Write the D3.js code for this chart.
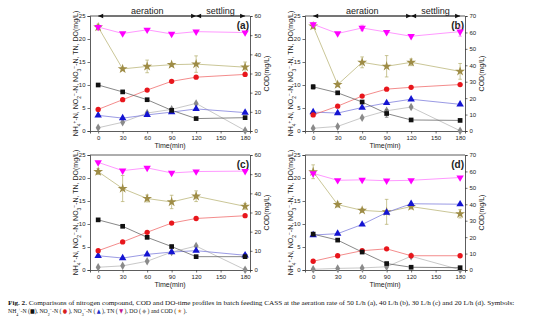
<!DOCTYPE html>
<html>
<head>
<meta charset="utf-8">
<script src="https://cdnjs.cloudflare.com/ajax/libs/d3/7.8.5/d3.min.js"></script>
<style>
  body { margin: 0; background: #fff; }
  svg text { font-family: "Liberation Sans", Arial, sans-serif; fill: #222; }
</style>
</head>
<body>
<div id="fig"></div>
<script>
// sampling times (min) and axis ticks
const times = [0, 30, 60, 90, 120, 180];
const timeTicks = [0, 30, 60, 90, 120, 150, 180];
const leftTicks = [0, 5, 10, 15, 20, 25];

// (a) 50 L/h
const nh4A = [10.0, 8.5, 6.8, 4.5, 2.7, 2.9];
const no2A = [4.7, 6.8, 8.9, 10.8, 11.7, 12.3];
const no3A = [3.4, 2.8, 3.5, 4.1, 4.8, 4.0];
const tnA  = [22.6, 21.2, 22.0, 21.1, 21.6, 21.4];
const doA  = [0.7, 1.9, 3.9, 4.7, 6.0, 0.1];
const codA = [54.2, 32.4, 33.7, 34.6, 34.9, 33.3];
const codErrA = [1.5, 0.6, 3.3, 0.8, 4.3, 2.7];

// (b) 40 L/h
const nh4B = [9.6, 8.3, 6.3, 3.8, 2.4, 2.3];
const nh4ErrB = [0.5, 0, 0, 0.8, 0, 0];
const no2B = [3.5, 5.4, 7.6, 9.1, 9.5, 10.1];
const no3B = [4.1, 3.9, 5.1, 6.1, 6.9, 5.8];
const tnB  = [23.2, 21.2, 22.4, 21.5, 20.6, 21.6];
const tnErrB = [0.4, 0, 0.6, 0, 0, 1.0];
const doB  = [0.6, 1.0, 2.9, 4.4, 5.2, 0.05];
const codB = [63.8, 28.2, 41.8, 39.4, 41.8, 36.3];
const codErrB = [1.5, 1.2, 3.3, 6.5, 2.0, 4.8];

// (c) 30 L/h
const nh4C = [10.9, 9.5, 7.1, 5.1, 2.9, 2.9];
const no2C = [4.2, 6.1, 8.2, 10.2, 11.2, 11.8];
const no3C = [3.1, 2.6, 3.4, 3.9, 4.2, 3.2];
const no3ErrC = [0, 0, 0, 0, 0, 0.4];
const tnC  = [23.4, 21.6, 22.2, 21.1, 21.4, 21.5];
const doC  = [0.6, 0.9, 1.9, 3.9, 5.2, 0.05];
const codC = [51.3, 42.5, 37.3, 35.5, 38.5, 33.2];
const codErrC = [1.5, 6.8, 1.8, 3.5, 2.8, 1.5];

// (d) 20 L/h
const nh4D = [7.8, 6.5, 3.9, 1.4, 0.6, 0.5];
const no2D = [1.9, 3.1, 4.2, 4.6, 3.1, 3.1];
const no3D = [7.6, 7.9, 9.9, 12.5, 14.4, 14.3];
const tnD  = [21.0, 19.5, 19.6, 19.4, 19.5, 20.1];
const doD  = [0.15, 0.35, 0.45, 0.7, 3.0, 0.05];
const codD = [59.8, 39.8, 36.3, 35.4, 38.6, 34.2];
const codErrD = [4.2, 1.5, 1.2, 7.6, 1.5, 2.5];

// series styles
const styles = {
  cod: { symbol: d3.symbolStar, size: 30, fill: "#9e8c46", line: "#b3ae6a", axis: "right" },
  tn:  { symbol: d3.symbolTriangle, size: 24, fill: "#f0f", line: "#ff6bff", rotate: 180 },
  doo: { symbol: d3.symbolDiamond, size: 21, fill: "#8a8a8a", line: "#b0b0b0" },
  no3: { symbol: d3.symbolTriangle, size: 24, fill: "#1414d2", line: "#6f6fd8" },
  no2: { symbol: d3.symbolCircle, size: 22, fill: "#e8161c", line: "#ee5a5a" },
  nh4: { symbol: d3.symbolSquare, size: 22, fill: "#111", line: "#555" }
};

const panels = [
  { id: "a", x: 90, y: 16, codMax: 60, phases: true,
    series: { cod: [codA, codErrA], tn: [tnA], doo: [doA], no3: [no3A], no2: [no2A], nh4: [nh4A] } },
  { id: "b", x: 305, y: 16, codMax: 70, phases: true,
    series: { cod: [codB, codErrB], tn: [tnB, tnErrB], doo: [doB], no3: [no3B], no2: [no2B], nh4: [nh4B, nh4ErrB] } },
  { id: "c", x: 90, y: 155, codMax: 60, phases: false,
    series: { cod: [codC, codErrC], tn: [tnC], doo: [doC], no3: [no3C, no3ErrC], no2: [no2C], nh4: [nh4C] } },
  { id: "d", x: 305, y: 155, codMax: 70, phases: false,
    series: { cod: [codD, codErrD], tn: [tnD], doo: [doD], no3: [no3D], no2: [no2D], nh4: [nh4D] } }
];

const W = 554, H = 324;
const pw = 160, ph = 115;

const svg = d3.select("#fig").append("svg")
  .attr("width", W).attr("height", H);

function addLabel(sel, parts) {
  // parts: [text, shift] where shift is "sub", "super" or null
  parts.forEach(p => {
    const t = sel.append("tspan").text(p[0]);
    if (p[1]) t.attr("baseline-shift", p[1]).attr("font-size", "0.7em");
  });
}

panels.forEach(p => {
  const g = svg.append("g").attr("transform", `translate(${p.x},${p.y})`);

  const x = d3.scaleLinear().domain([-10, 186]).range([0, pw]);
  const yL = d3.scaleLinear().domain([0, 25]).range([ph, 0]);
  const yR = d3.scaleLinear().domain([0, p.codMax]).range([ph, 0]);

  // axes
  const axB = g.append("g").attr("transform", `translate(0,${ph})`)
    .call(d3.axisBottom(x).tickValues(timeTicks).tickSize(2.5).tickPadding(2));
  const axL = g.append("g")
    .call(d3.axisLeft(yL).tickValues(leftTicks).tickSize(2.5).tickPadding(2));
  const axR = g.append("g").attr("transform", `translate(${pw},0)`)
    .call(d3.axisRight(yR).ticks(p.codMax / 10).tickSize(2.5).tickPadding(2));
  g.append("line").attr("x1", 0).attr("x2", pw).attr("y1", 0).attr("y2", 0)
    .attr("stroke", "#333").attr("stroke-width", 0.8);

  [axB, axL, axR].forEach(a => {
    a.select(".domain").attr("stroke", "#333").attr("stroke-width", 0.8);
    a.selectAll(".tick line").attr("stroke", "#333").attr("stroke-width", 0.7);
    a.selectAll(".tick text").attr("font-size", 6).attr("fill", "#333")
      .attr("font-family", "Liberation Sans, Arial, sans-serif");
  });

  // axis titles
  g.append("text").attr("x", pw / 2).attr("y", ph + 17)
    .attr("text-anchor", "middle").attr("font-size", 7).text("Time(min)");

  const yt = g.append("text")
    .attr("transform", `translate(-12,${ph / 2}) rotate(-90)`)
    .attr("text-anchor", "middle").attr("font-size", 7);
  addLabel(yt, [["NH"], ["4", "sub"], ["+", "super"], ["-N, NO"], ["2", "sub"], ["\u2212", "super"],
    ["-N, NO"], ["3", "sub"], ["\u2212", "super"], ["-N, TN, DO(mg/L)"]]);

  g.append("text")
    .attr("transform", `translate(${pw + 19},${ph / 2}) rotate(-90)`)
    .attr("text-anchor", "middle").attr("font-size", 7).text("COD(mg/L)");

  // panel letter
  g.append("text").attr("x", pw - 1).attr("y", 12.5)
    .attr("text-anchor", "end").attr("font-size", 10).attr("font-weight", "bold")
    .attr("fill", "#111").text(`(${p.id})`);

  // aeration / settling phase arrows
  if (p.phases) {
    const arrows = [[0, 120, "aeration"], [120, 180, "settling"]];
    const tri = (tip, dir) => {
      const L = 5, h = 2.3;
      return `M${tip},0L${tip - dir * L},${-h}L${tip - dir * L},${h}Z`;
    };
    arrows.forEach(([a, b, label]) => {
      g.append("line").attr("x1", x(a)).attr("x2", x(b)).attr("y1", 0).attr("y2", 0)
        .attr("stroke", "#222").attr("stroke-width", 0.8);
      g.append("path").attr("d", tri(x(a), -1)).attr("fill", "#111");
      g.append("path").attr("d", tri(x(b), 1)).attr("fill", "#111");
      g.append("text").attr("x", x((a + b) / 2)).attr("y", -2)
        .attr("text-anchor", "middle").attr("font-size", 9).attr("fill", "#222").text(label);
    });
  }

  // series
  Object.keys(styles).forEach(key => {
    const s = styles[key];
    const [vals, errs] = p.series[key];
    const y = s.axis === "right" ? yR : yL;
    const pts = times.map((t, i) => ({ t, v: vals[i], e: errs ? errs[i] : 0 }));

    g.append("path").datum(pts)
      .attr("d", d3.line().x(d => x(d.t)).y(d => y(d.v)))
      .attr("fill", "none").attr("stroke", s.line).attr("stroke-width", 0.7);

    const eb = g.append("g").selectAll("g").data(pts.filter(d => d.e > 0)).join("g")
      .attr("stroke", s.line).attr("stroke-width", 0.7);
    eb.append("line").attr("x1", d => x(d.t)).attr("x2", d => x(d.t))
      .attr("y1", d => y(d.v - d.e)).attr("y2", d => y(d.v + d.e));
    eb.append("line").attr("x1", d => x(d.t) - 1.8).attr("x2", d => x(d.t) + 1.8)
      .attr("y1", d => y(d.v - d.e)).attr("y2", d => y(d.v - d.e));
    eb.append("line").attr("x1", d => x(d.t) - 1.8).attr("x2", d => x(d.t) + 1.8)
      .attr("y1", d => y(d.v + d.e)).attr("y2", d => y(d.v + d.e));

    g.append("g").selectAll("path").data(pts).join("path")
      .attr("d", d3.symbol().type(s.symbol).size(s.size))
      .attr("transform", d => `translate(${x(d.t)},${y(d.v)})${s.rotate ? " rotate(" + s.rotate + ")" : ""}`)
      .attr("fill", s.fill);
  });
});

// caption: each line is squeezed horizontally to its column width
function captionLine(y, width) {
  const g = svg.append("g");
  const t = g.append("text").attr("x", 0).attr("y", 0).attr("font-size", 6.6)
    .style("font-family", "Liberation Serif, serif").style("fill", "#111");
  return { g, t, fit() {
    const w = t.node().getComputedTextLength();
    g.attr("transform", `translate(8,${y}) scale(${width / w},1)`);
  } };
}

const c1 = captionLine(305, 507);
c1.t.append("tspan").attr("font-weight", "bold").text("Fig. 2.");
c1.t.append("tspan").text(" Comparisons of nitrogen compound, COD and DO-time profiles in batch feeding CASS at the aeration rate of 50 L/h (a), 40 L/h (b), 30 L/h (c) and 20 L/h (d). Symbols:");
c1.fit();

const c2 = captionLine(313, 179);
const l2 = c2.t;
const sym = (txt, color) => l2.append("tspan").text(txt).style("fill", color)
  .style("font-family", "DejaVu Sans, sans-serif").attr("font-size", 5.8);
const plain = txt => l2.append("tspan").text(txt);
const shifted = (txt, sh) => l2.append("tspan").text(txt).attr("baseline-shift", sh).attr("font-size", 4.6);
plain("NH"); shifted("4", "sub"); shifted("+", "super"); plain("-N ("); sym("\u25A0", "#111"); plain("), NO");
shifted("2", "sub"); shifted("\u2212", "super"); plain("-N ( "); sym("\u25CF", "#d81e1e"); plain(" ), NO");
shifted("3", "sub"); shifted("\u2212", "super"); plain("-N ( "); sym("\u25B2", "#1a2fc8"); plain(" ), TN ( ");
sym("\u25BC", "#c0168c"); plain(" ), DO ( "); sym("\u25C6", "#9a9a9a"); plain(" ) and COD ( ");
sym("\u2605", "#d9822b"); plain(" ).");
c2.fit();
</script>
</body>
</html>
